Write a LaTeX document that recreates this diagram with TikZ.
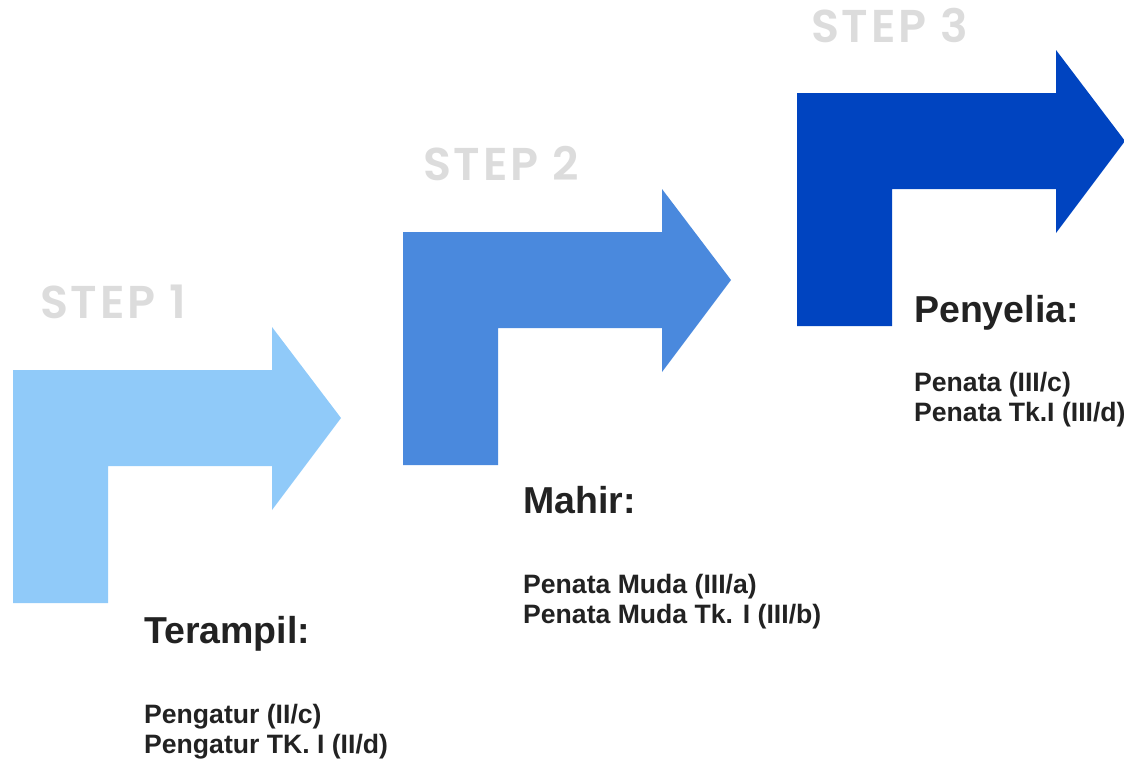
\documentclass[tikz,border=0pt]{standalone}
\usepackage{fontspec}
\setmainfont{Liberation Sans}
\newfontfamily\stepfont{Poppins SemiBold}[LetterSpace=6]
\usetikzlibrary{positioning}

\definecolor{stepone}{HTML}{90CAF9}
\definecolor{steptwo}{HTML}{4A89DD}
\definecolor{stepthree}{HTML}{0044C0}
\definecolor{steplabel}{HTML}{DCDCDC}
\definecolor{darktext}{HTML}{222222}

\tikzset{
    bentarrow/.pic={
        \path[pic actions] (0,0) -- (0,-233) -- (259,-233) -- (259,-276) -- (328,-185)
            -- (259,-93) -- (259,-137) -- (95,-137) -- (95,0) -- cycle;
    },
    steptitle/.style={anchor=base west, inner sep=0pt, text=steplabel,
        font=\stepfont\fontsize{46}{46}\selectfont},
    levelname/.style={anchor=base west, inner sep=0pt, text=darktext,
        font=\bfseries\fontsize{37.5}{37.5}\selectfont},
    levelgrades/.style={anchor=base west, inner sep=0pt, text=darktext, align=left,
        font=\bfseries\fontsize{26.6}{30}\selectfont}
}

\begin{document}
\begin{tikzpicture}[x=1pt, y=-1pt]

    \useasboundingbox (0,0) rectangle (1124,761);

    % Arrows
    \pic[fill=stepone] (arrowone) at (13,603) {bentarrow};
    \pic[fill=steptwo] (arrowtwo) at (403,465) {bentarrow};
    \pic[fill=stepthree] (arrowthree) at (797,326) {bentarrow};

    % Step titles
    \node[steptitle] (stepone) at (40,318) {STEP 1};
    \node[steptitle] (steptwo) at (423,180) {STEP 2};
    \node[steptitle] (stepthree) at (811,42) {STEP 3};

    % Step 1
    \node[levelname] (terampil) at (144,643) {Terampil:};
    \node[levelgrades] (terampilgrades) at (144,753) {Pengatur (II/c)\\Pengatur TK. I (II/d)};

    % Step 2
    \node[levelname] (mahir) at (523,513) {Mahir:};
    \node[levelgrades] (mahirgrades) at (523,623) {Penata Muda (III/a)\\Penata Muda Tk. I (III/b)};

    % Step 3
    \node[levelname] (penyelia) at (914,322) {Penyelia:};
    \node[levelgrades] (penyeliagrades) at (914,421) {Penata (III/c)\\Penata Tk.I (III/d)};

\end{tikzpicture}
\end{document}
